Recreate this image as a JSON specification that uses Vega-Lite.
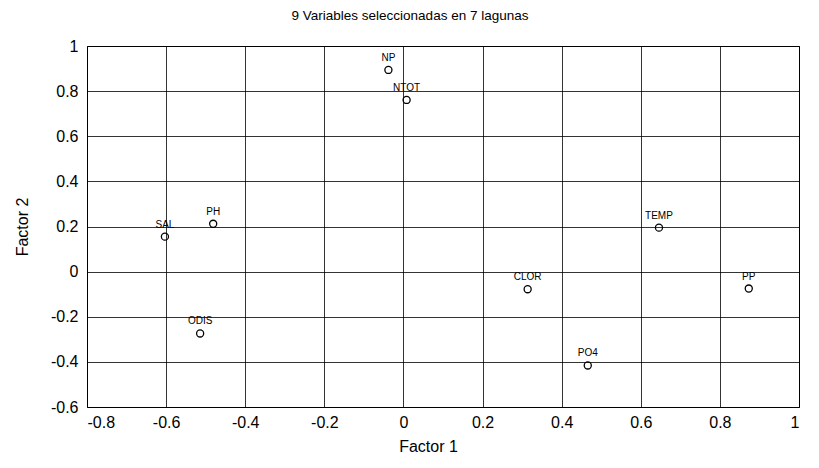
{
  "$schema": "https://vega.github.io/schema/vega-lite/v6.json",
  "width": 712,
  "height": 361,
  "autosize": {"type": "none"},
  "padding": {"left": 87, "top": 46, "right": 20, "bottom": 61},
  "background": "white",
  "title": {
    "text": "9 Variables seleccionadas en 7 lagunas",
    "font": "Liberation Sans",
    "fontSize": 13.5,
    "fontWeight": "normal",
    "color": "black",
    "anchor": "middle",
    "dx": -33,
    "offset": 16
  },
  "data": {
    "values": [
      {"var": "NP", "f1": -0.038, "f2": 0.894},
      {"var": "NTOT", "f1": 0.008, "f2": 0.761},
      {"var": "SAL", "f1": -0.603, "f2": 0.155},
      {"var": "PH", "f1": -0.481, "f2": 0.212},
      {"var": "ODIS", "f1": -0.514, "f2": -0.274},
      {"var": "TEMP", "f1": 0.646, "f2": 0.195},
      {"var": "CLOR", "f1": 0.314, "f2": -0.078},
      {"var": "PP", "f1": 0.873, "f2": -0.075},
      {"var": "PO4", "f1": 0.466, "f2": -0.416}
    ]
  },
  "encoding": {
    "x": {
      "field": "f1",
      "type": "quantitative",
      "scale": {"domain": [-0.8, 1], "nice": false, "zero": false},
      "axis": {
        "title": "Factor 1",
        "values": [-0.8, -0.6, -0.4, -0.2, 0, 0.2, 0.4, 0.6, 0.8, 1],
        "labelExpr": "datum.value < 0 ? '-' + format(-datum.value, '~g') : format(datum.value, '~g')",
        "titleX": 341,
        "titlePadding": 8,
        "labelPadding": 7
      }
    },
    "y": {
      "field": "f2",
      "type": "quantitative",
      "scale": {"domain": [-0.6, 1], "nice": false, "zero": false},
      "axis": {
        "title": "Factor 2",
        "values": [-0.6, -0.4, -0.2, 0, 0.2, 0.4, 0.6, 0.8, 1],
        "labelExpr": "datum.value < 0 ? '-' + format(-datum.value, '~g') : format(datum.value, '~g')",
        "titlePadding": 20,
        "labelPadding": 9
      }
    }
  },
  "layer": [
    {
      "mark": {"type": "point", "shape": "circle", "filled": false, "stroke": "black", "strokeWidth": 1.3, "size": 50, "opacity": 1}
    },
    {
      "mark": {"type": "text", "dy": -12, "font": "Liberation Sans", "fontSize": 10, "color": "black", "baseline": "middle", "align": "center"},
      "encoding": {"text": {"field": "var"}}
    }
  ],
  "config": {
    "view": {"stroke": "black", "strokeWidth": 1},
    "axis": {
      "grid": true,
      "gridColor": "black",
      "gridOpacity": 1,
      "gridWidth": 0.8,
      "domain": false,
      "ticks": false,
      "labelFont": "Liberation Sans",
      "labelFontSize": 16,
      "labelColor": "black",
      "titleFont": "Liberation Sans",
      "titleFontSize": 16,
      "titleFontWeight": "normal",
      "titleColor": "black"
    }
  }
}
